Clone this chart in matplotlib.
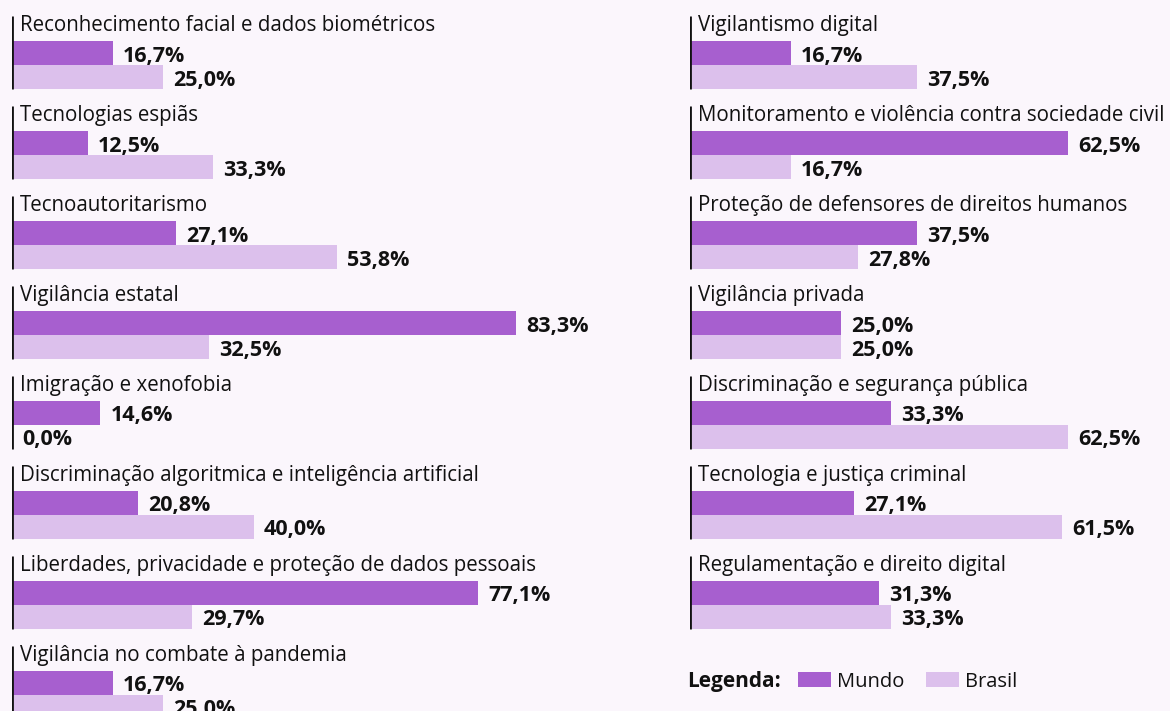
import matplotlib

matplotlib.use("Agg")
import matplotlib.pyplot as plt
from matplotlib.patches import Rectangle

# values (percent)
left_cats = [
    "Reconhecimento facial e dados biométricos",
    "Tecnologias espiãs",
    "Tecnoautoritarismo",
    "Vigilância estatal",
    "Imigração e xenofobia",
    "Discriminação algoritmica e inteligência artificial",
    "Liberdades, privacidade e proteção de dados pessoais",
    "Vigilância no combate à pandemia",
]
left_mundo = [16.7, 12.5, 27.1, 83.3, 14.6, 20.8, 77.1, 16.7]
left_brasil = [25.0, 33.3, 53.8, 32.5, 0.0, 40.0, 29.7, 25.0]

right_cats = [
    "Vigilantismo digital",
    "Monitoramento e violência contra sociedade civil",
    "Proteção de defensores de direitos humanos",
    "Vigilância privada",
    "Discriminação e segurança pública",
    "Tecnologia e justiça criminal",
    "Regulamentação e direito digital",
]
right_mundo = [16.7, 62.5, 37.5, 25.0, 33.3, 27.1, 31.3]
right_brasil = [37.5, 16.7, 27.8, 25.0, 62.5, 61.5, 33.3]

BG = "#FBF6FC"
C_MUNDO = "#A75FCF"
C_BRASIL = "#DCC0EC"
INK = "#111111"
FONT = "Open Sans"

W, H = 1170, 711
PX_PER_PCT = 6.05   # horizontal scale shared by both columns
ROW_PX = 90         # height of one category block

plt.rcParams["font.family"] = FONT

fig = plt.figure(figsize=(W / 100, H / 100), dpi=100, facecolor=BG)


def draw_column(x0_px, width_px, cats, mundo, brasil):
    ax = fig.add_axes([x0_px / W, 0, width_px / W, 1])
    ax.set_facecolor(BG)
    ax.set_xlim(0, width_px / PX_PER_PCT)
    ax.set_ylim(H / ROW_PX, 0)
    ax.axis("off")
    px = 1 / PX_PER_PCT  # one pixel in data units
    bh = 24 / ROW_PX
    for i, (cat, m, b) in enumerate(zip(cats, mundo, brasil)):
        ym = i + 53 / ROW_PX
        yb = i + 77 / ROW_PX
        ax.barh(ym, m, height=bh, color=C_MUNDO, linewidth=0)
        ax.barh(yb, b, height=bh, color=C_BRASIL, linewidth=0)
        ax.vlines(0, i + 16 / ROW_PX, i + 89 / ROW_PX, color=INK, lw=2)
        ax.text(8 * px, i + 31 / ROW_PX, cat, fontsize=14.8, color=INK,
                va="baseline", ha="left")
        for y, v in ((ym, m), (yb, b)):
            ax.text(v + 10 * px, y + 8.5 / ROW_PX, f"{v:.1f}%".replace(".", ","),
                    fontsize=15.5, fontweight="bold", color=INK,
                    va="baseline", ha="left")
    return ax


draw_column(12, 660, left_cats, left_mundo, left_brasil)
draw_column(690, 480, right_cats, right_mundo, right_brasil)

# legend
ly = 1 - 687 / H
fig.text(687 / W, ly, "Legenda:", fontsize=15, fontweight="bold", color=INK,
         va="baseline", ha="left")
for x_patch, color, label in ((798, C_MUNDO, "Mundo"), (926, C_BRASIL, "Brasil")):
    fig.patches.append(Rectangle((x_patch / W, 1 - 687 / H), 33 / W, 15 / H,
                                 transform=fig.transFigure, color=color,
                                 linewidth=0))
    fig.text((x_patch + 39) / W, ly, label, fontsize=14.5, color=INK,
             va="baseline", ha="left")

fig.savefig("out.png", dpi=100, facecolor=BG)
